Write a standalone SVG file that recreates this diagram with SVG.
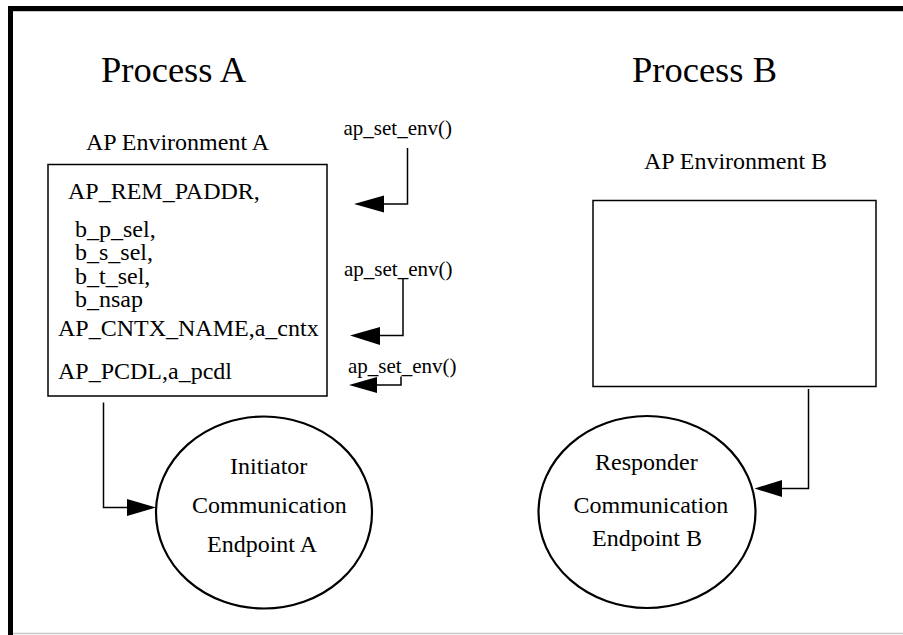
<svg xmlns="http://www.w3.org/2000/svg" width="903" height="635" viewBox="0 0 903 635">
  <defs>
    <style>
      text { font-family: "Liberation Serif", "Times New Roman", serif; fill: #000; }
      .title { font-size: 36.5px; }
      .label { font-size: 24px; }
      .call { font-size: 21px; }
      .box { fill: #fff; stroke: #000; stroke-width: 1.5; }
      .ep { fill: #fff; stroke: #000; stroke-width: 2.2; }
      .wire { fill: none; stroke: #000; stroke-width: 1.5; }
      .head { fill: #000; stroke: none; }
    </style>
  </defs>

  <rect x="0" y="0" width="903" height="635" fill="#fff"/>

  <!-- outer frame -->
  <g id="frame">
    <rect x="8" y="6" width="895" height="5" fill="#000"/>
    <rect x="8" y="6" width="5" height="629" fill="#000"/>
    <line x1="13" y1="11.5" x2="903" y2="11.5" stroke="#c8c8c8" stroke-width="1"/>
    <line x1="13" y1="633.5" x2="903" y2="633.5" stroke="#c8c8c8" stroke-width="1.5"/>
  </g>

  <!-- process titles -->
  <g id="process-a-title">
    <text class="title" x="101" y="82">Process A</text>
  </g>
  <g id="process-b-title">
    <text class="title" x="632" y="82">Process B</text>
  </g>

  <!-- environment A -->
  <g id="env-a">
    <text class="label" x="86" y="150">AP Environment A</text>
    <rect class="box" x="48" y="164.5" width="279" height="231.5"/>
    <text class="label" x="68" y="199">AP_REM_PADDR,</text>
    <text class="label" x="75" y="237">b_p_sel,</text>
    <text class="label" x="75" y="260">b_s_sel,</text>
    <text class="label" x="75" y="284">b_t_sel,</text>
    <text class="label" x="75" y="307">b_nsap</text>
    <text class="label" x="58" y="336">AP_CNTX_NAME,a_cntx</text>
    <text class="label" x="58" y="379">AP_PCDL,a_pcdl</text>
  </g>

  <!-- environment B -->
  <g id="env-b">
    <text class="label" x="644" y="169">AP Environment B</text>
    <rect class="box" x="593" y="200.5" width="283" height="186"/>
  </g>

  <!-- communication endpoints -->
  <g id="endpoint-a">
    <ellipse class="ep" cx="264" cy="512.5" rx="108" ry="96"/>
    <text class="label" x="230" y="474">Initiator</text>
    <text class="label" x="192" y="513">Communication</text>
    <text class="label" x="207" y="551.5">Endpoint A</text>
  </g>
  <g id="endpoint-b">
    <ellipse class="ep" cx="647" cy="512" rx="108.5" ry="96"/>
    <text class="label" x="595" y="470">Responder</text>
    <text class="label" x="573.5" y="512.5">Communication</text>
    <text class="label" x="592" y="545.5">Endpoint B</text>
  </g>

  <!-- ap_set_env() call labels -->
  <g id="call-labels">
    <text class="call" x="343.5" y="135">ap_set_env()</text>
    <text class="call" x="344" y="275.5">ap_set_env()</text>
    <text class="call" x="348" y="372.5">ap_set_env()</text>
  </g>

  <!-- connectors -->
  <g id="connectors">
    <!-- ap_set_env() calls into environment A -->
    <polyline class="wire" points="407.5,148 407.5,204 383,204"/>
    <polygon class="head" points="354,204 384,195.5 384,212.5"/>

    <polyline class="wire" points="403,278 403,335.5 380,335.5"/>
    <polygon class="head" points="350,335.5 380,327 380,345"/>

    <polyline class="wire" points="401,376.5 401,385 376,385"/>
    <polygon class="head" points="349,385 377,377 377,393"/>

    <!-- environment A to initiator endpoint -->
    <polyline class="wire" points="103.5,402.5 103.5,507.5 127,507.5"/>
    <polygon class="head" points="156,507.5 127,499 127,516"/>

    <!-- environment B to responder endpoint -->
    <polyline class="wire" points="808.5,389 808.5,488.5 782,488.5"/>
    <polygon class="head" points="754.5,488.5 782,480 782,497"/>
  </g>
</svg>
